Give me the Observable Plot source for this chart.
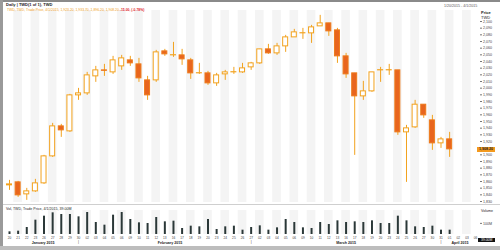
<!DOCTYPE html>
<html><head><meta charset="utf-8">
<script src="https://cdn.jsdelivr.net/npm/d3@7"></script>
<script src="https://cdn.jsdelivr.net/npm/@observablehq/plot@0.6"></script>
<style>
body{margin:0;background:#fff;font-family:"Liberation Sans",Arial,sans-serif}
#wrap{position:relative;width:500px;height:250px;overflow:hidden;background:#fff}
.t{position:absolute;white-space:nowrap;line-height:1;z-index:5}
.b{position:absolute;z-index:4}
#price,#vol{position:absolute;left:0;z-index:1}
#price{top:0}#vol{top:200px}
</style></head><body><div id="wrap"><div id="price"></div><div id="vol"></div></div>
<script>
// Trading days (Jan 20 2015 - Apr 1 2015) plus three axis-only days
const dayLabels = ["20","21","22","23","26","27","28","29","30",
 "02","03","04","05","06","09","10","11","12","13","16","17","18","19","20","23","24","25","26","27",
 "02","03","04","05","06","09","10","11","12","13","16","17","18","19","20","23","24","25","26","27","30","31",
 "01","02","03","06"];
const open  = [1854.2,1858.7,1840.7,1845.2,1857.2,1897.7,1942.7,1935.2,1989.2,1992.2,2017.7,2026.7,2023.7,2032.7,2041.7,2035.7,2011.7,2011.7,2055.2,2049.2,2049.2,2041.7,2022.2,2022.2,2007.2,2020.7,2023.7,2023.7,2031.2,2037.2,2058.2,2052.2,2062.7,2076.2,2082.2,2082.2,2092.7,2097.2,2086.7,2047.7,2022.2,1987.7,1995.2,2026.7,2026.7,2026.7,1933.7,1941.2,1975.2,1951.7,1917.2,1923.2];
const high  = [1861.7,1860.2,1849.7,1863.2,1899.2,1947.2,1945.7,1990.7,1999.7,2023.7,2032.7,2035.7,2047.7,2049.2,2047.7,2044.7,2017.7,2056.7,2058.2,2068.7,2058.2,2044.7,2037.2,2025.2,2022.2,2026.7,2031.2,2037.2,2038.7,2058.2,2065.7,2067.2,2079.2,2088.2,2089.7,2094.2,2109.2,2097.2,2089.7,2052.2,2022.2,2010.2,2023.7,2031.2,2035.7,2026.7,1944.2,1981.7,1975.2,1959.2,1926.2,1933.7];
const low   = [1846.7,1836.2,1831.7,1843.7,1855.7,1896.2,1926.2,1933.7,1981.7,1989.2,2008.7,2017.7,2020.7,2026.7,2032.7,2008.7,1981.7,2008.7,2047.7,2046.2,2034.2,2013.2,2020.7,2004.2,2002.7,2011.7,2020.7,2022.2,2026.7,2035.7,2050.7,2049.2,2053.7,2076.2,2073.2,2067.2,2092.7,2077.7,2037.2,2014.7,1899.2,1981.7,1993.7,2008.7,2019.2,1929.2,1858.7,1939.7,1954.7,1906.7,1909.7,1896.2];
const close = [1855.7,1839.2,1845.2,1857.2,1897.7,1942.7,1936.7,1989.2,1992.2,2019.2,2026.7,2026.0,2041.7,2044.7,2037.2,2014.7,1989.2,2053.7,2050.7,2049.5,2043.2,2022.2,2022.5,2007.2,2019.2,2023.7,2024.0,2029.7,2037.2,2058.2,2052.2,2062.7,2076.2,2083.7,2082.5,2091.2,2097.2,2085.2,2047.7,2020.7,1987.7,1995.2,2023.7,2027.0,2027.0,1933.7,1939.7,1975.2,1959.2,1917.2,1923.2,1908.2];
const volume = [24,30,63,129,165,195,180,180,159,198,108,84,174,198,135,105,99,153,114,
 120,54,75,69,135,45,69,75,39,63,78,39,60,135,108,60,54,108,
 90,123,108,114,108,123,99,99,165,123,69,63,75,39,39];
const monthNames = ["January 2015","February 2015","March 2015","April 2015"];
const monthCenters = [3.9, 18.6, 39.0, 52.2];
const monthEnds = [8, 28, 50];
const priceTicks = d3.range(1830, 2101, 10);
const volumeTicks = [100];

const idx = d3.range(open.length);
const allDays = d3.range(dayLabels.length);
const stripes = allDays.filter(i => i % 2 === 1);
const xDomain = [-0.58, 54.46];
const UP = "#f2a21e", DOWN = "#e8651e";
const last = close[close.length - 1];

const price = Plot.plot({
  width: 500, height: 205, marginLeft: 4, marginRight: 21, marginTop: 10, marginBottom: 3,
  style: {fontFamily: "Liberation Sans, Arial, sans-serif", background: "transparent"},
  x: {domain: xDomain, axis: null},
  y: {domain: [1828.5, 2116.5], axis: null},
  marks: [
    Plot.rect(stripes, {x1: d => d - 0.5, x2: d => d + 0.5, fill: "#f4f4f4"}),
    Plot.axisY(priceTicks, {anchor: "right", tickSize: 2, fontSize: 3.6, stroke: "#777", fill: "#444",
      fontWeight: d => d % 100 === 0 ? "bold" : "normal",
      tickFormat: d => Math.abs(d - last) < 5 ? "" : d3.format(",")(d), tickPadding: 1.5}),
    Plot.ruleX(idx, {x: i => i, y1: i => low[i], y2: i => high[i], stroke: UP, strokeWidth: 1}),
    Plot.rect(idx, {x1: i => i - 0.29, x2: i => i + 0.29,
      y1: i => open[i], y2: i => close[i],
      fill: i => close[i] >= open[i] ? "#fff" : DOWN,
      stroke: i => close[i] >= open[i] ? UP : "#ee7a1a", strokeWidth: 1})
  ]
});
document.getElementById("price").appendChild(price);

const vol = Plot.plot({
  width: 500, height: 50, marginLeft: 4, marginRight: 21, marginTop: 10, marginBottom: 16,
  style: {fontFamily: "Liberation Sans, Arial, sans-serif", background: "transparent", overflow: "visible"},
  x: {domain: xDomain, axis: null},
  y: {domain: [0, 216], axis: null},
  marks: [
    Plot.rect(stripes, {x1: d => d - 0.5, x2: d => d + 0.5, fill: "#f4f4f4"}),
    Plot.ruleX(idx, {x: i => i, y1: () => 0, y2: i => volume[i], stroke: "#2b3838", strokeWidth: 2}),
    Plot.axisY(volumeTicks, {anchor: "right", tickSize: 2, fontSize: 3.6, stroke: "#777", fill: "#444",
      tickFormat: d => d + "M", tickPadding: 1.5}),
    Plot.axisX(allDays, {anchor: "bottom", tickSize: 0, tickPadding: 2.5, fontSize: 3.2, fill: "#444",
      tickFormat: d => dayLabels[d]}),
    Plot.text(monthNames, {x: (d, i) => monthCenters[i], frameAnchor: "bottom", dy: 9,
      fontSize: 3.6, fontWeight: "bold", fill: "#222"}),
    Plot.text(monthEnds, {x: d => d, text: () => "|", frameAnchor: "bottom", dy: 8,
      fontSize: 3.6, fill: "#333"})
  ]
});
document.getElementById("vol").appendChild(vol);

// header, frame and panel texts
const wrap = document.getElementById("wrap");
function addText(txt, css) {
  const d = document.createElement("div"); d.className = "t"; d.textContent = txt;
  Object.assign(d.style, css); wrap.appendChild(d); return d;
}
function addBox(css){const d=document.createElement("div");d.className="b";Object.assign(d.style,css);wrap.appendChild(d);}
addBox({left:"0px",top:"0px",width:"500px",height:"2px",background:"#8a8a8a"});
addBox({left:"0px",top:"0px",width:"3px",height:"250px",background:"#9a9a9a"});
addBox({left:"0px",top:"246px",width:"500px",height:"4px",background:"#bdbdbd"});
addBox({left:"3px",top:"204px",width:"497px",height:"1px",background:"#cfcfcf"});

addText("Daily | TWD(1 of 1), TWD", {left:"6px", top:"3px", fontSize:"4px", color:"#222", fontWeight:"bold"});
const leg = addText("TWD, TWD, Trade Price, 4/1/2015, 1,923.20, 1,933.70, 1,896.20, 1,908.20 ", {left:"7px", top:"9px", fontSize:"3.4px", color:"#f0a020"});
const sp = document.createElement("span"); sp.textContent = "-15.00, (-0.78%)"; sp.style.color = "#e0202a"; sp.style.fontWeight="bold"; leg.appendChild(sp);
addText("1/20/2015 - 4/1/2015", {left:"444px", top:"5px", fontSize:"3.6px", color:"#555"});
addText("Price", {left:"481px", top:"11px", fontSize:"4px", color:"#222", fontWeight:"bold"});
addText("TWD", {left:"481px", top:"15.5px", fontSize:"4px", color:"#222"});
addText(d3.format(",.2f")(last), {left:"477px", top:"147px", fontSize:"3.6px", color:"#222", fontWeight:"bold",
  background:"#f39a1e", padding:"0.6px 2px"});
addText("Vol, TWD, Trade Price, 4/1/2015, 39.00M", {left:"6px", top:"208px", fontSize:"3.6px", color:"#222"});
addText("Volume", {left:"481px", top:"210px", fontSize:"3.6px", color:"#222"});
addText(volume[volume.length - 1].toFixed(2) + "M", {left:"478px", top:"238px", fontSize:"3.4px", color:"#fff", background:"#111", padding:"0.5px 3px"});
</script></body></html>
